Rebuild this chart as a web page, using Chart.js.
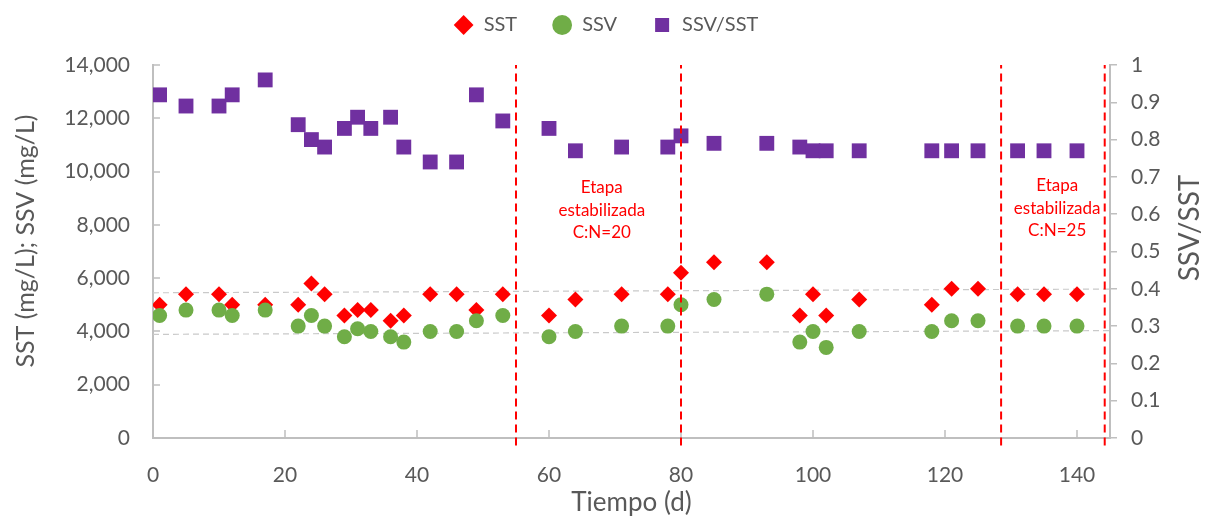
<!DOCTYPE html>
<html>
<head>
<meta charset="utf-8">
<script src="https://cdn.jsdelivr.net/npm/chart.js@4.4.1/dist/chart.umd.min.js"></script>
<style>
  html, body { margin: 0; padding: 0; background: #fff; }
  #wrap { width: 1212px; height: 516px; }
</style>
</head>
<body>
<div id="wrap"><canvas id="solidsChart"></canvas></div>
<script>
// Sampling days
const days = [1, 5, 10, 12, 17, 22, 24, 26, 29, 31, 33, 36, 38, 42, 46, 49, 53,
  60, 64, 71, 78, 80, 85, 93, 98, 100, 102, 107, 118, 121, 125, 131, 135, 140];

// SST (mg/L)
const sst = [5000, 5400, 5400, 5000, 5000, 5000, 5800, 5400, 4600, 4800, 4800, 4400, 4600, 5400, 5400, 4800, 5400,
  4600, 5200, 5400, 5400, 6200, 6600, 6600, 4600, 5400, 4600, 5200, 5000, 5600, 5600, 5400, 5400, 5400];

// SSV (mg/L)
const ssv = [4600, 4800, 4800, 4600, 4800, 4200, 4600, 4200, 3800, 4100, 4000, 3800, 3600, 4000, 4000, 4400, 4600,
  3800, 4000, 4200, 4200, 5000, 5200, 5400, 3600, 4000, 3400, 4000, 4000, 4400, 4400, 4200, 4200, 4200];

// SSV/SST
const ratio = [0.92, 0.89, 0.89, 0.92, 0.96, 0.84, 0.80, 0.78, 0.83, 0.86, 0.83, 0.86, 0.78, 0.74, 0.74, 0.92, 0.85,
  0.83, 0.77, 0.78, 0.78, 0.81, 0.79, 0.79, 0.78, 0.77, 0.77, 0.77, 0.77, 0.77, 0.77, 0.77, 0.77, 0.77];

// linear trend lines (values at the first and last day)
const trendDays = [0, 145];
const sstTrend = [5450, 5590];
const ssvTrend = [3890, 4030];

// stage boundaries (d)
const stageDays = [55, 80, 128.5, 144.2];

const noteLines = [
  ["Etapa", "estabilizada", "C:N=20"],
  ["Etapa", "estabilizada", "C:N=25"],
];

// annotation placement (day, value of first line on the left axis)
const noteAt = [{ day: 68, value: 9400 }, { day: 137, value: 9470 }];

const grey = "#595959";
const axisGrey = "#bfbfbf";

Chart.defaults.font.family = "Lato, 'Open Sans', sans-serif";
Chart.defaults.color = grey;

const toPoints = (xs, ys) => xs.map((d, i) => ({ x: d, y: ys[i] }));

const stagePoints = [];
stageDays.forEach(d => {
  stagePoints.push({ x: d, y: -280 }, { x: d, y: 14000 }, { x: d, y: null });
});

// legend sits a bit higher than the plot
const legendGap = {
  id: "legendGap",
  beforeInit(chart) {
    const fit = chart.legend.fit;
    chart.legend.fit = function () {
      fit.bind(chart.legend)();
      this.height += 20;
    };
  }
};

// inside tick marks, axis titles and the stage notes
const extras = {
  id: "extras",
  beforeDatasetsDraw(chart) {
    const { ctx, scales: { x, y } } = chart;
    ctx.save();
    ctx.strokeStyle = axisGrey;
    ctx.lineWidth = 1.5;
    ctx.beginPath();
    y.ticks.forEach(t => {
      const py = Math.round(y.getPixelForValue(t.value));
      ctx.moveTo(y.right, py);
      ctx.lineTo(y.right + 7, py);
    });
    x.ticks.forEach(t => {
      const px = Math.round(x.getPixelForValue(t.value));
      ctx.moveTo(px, x.top);
      ctx.lineTo(px, x.top - 8);
    });
    ctx.stroke();
    ctx.restore();
  },
  afterDraw(chart) {
    const { ctx, scales: { x, y } } = chart;
    ctx.save();
    ctx.fillStyle = grey;
    ctx.textAlign = "center";
    ctx.textBaseline = "middle";

    ctx.font = "25px Lato";
    ctx.save();
    ctx.translate(26, 241);
    ctx.rotate(-Math.PI / 2);
    ctx.fillText("SST (mg/L); SSV (mg/L)", 0, 0);
    ctx.restore();

    ctx.font = "28px Lato";
    ctx.save();
    ctx.translate(1190, 228);
    ctx.rotate(-Math.PI / 2);
    ctx.fillText("SSV/SST", 0, 0);
    ctx.restore();

    ctx.fillStyle = "#ff0000";
    ctx.font = "17px Lato";
    noteAt.forEach((n, i) => {
      const px = x.getPixelForValue(n.day);
      const py = y.getPixelForValue(n.value);
      noteLines[i].forEach((line, j) => ctx.fillText(line, px, py + j * 22.5));
    });
    ctx.restore();
  }
};

new Chart(document.getElementById("solidsChart"), {
  type: "scatter",
  data: {
    datasets: [
      {
        label: "SST",
        data: toPoints(days, sst),
        pointStyle: "rectRot",
        pointRadius: 8,
        pointHoverRadius: 8,
        backgroundColor: "#ff0000",
        borderColor: "#ff0000",
        borderWidth: 0,
        yAxisID: "y",
        order: 3
      },
      {
        label: "SSV",
        data: toPoints(days, ssv),
        pointStyle: "circle",
        pointRadius: 7.5,
        pointHoverRadius: 7.5,
        backgroundColor: "#70ad47",
        borderColor: "#70ad47",
        borderWidth: 0,
        yAxisID: "y",
        order: 2
      },
      {
        label: "SSV/SST",
        data: toPoints(days, ratio),
        pointStyle: "rect",
        pointRadius: 10.5,
        pointHoverRadius: 10.5,
        backgroundColor: "#7030a0",
        borderColor: "#7030a0",
        borderWidth: 0,
        yAxisID: "y2",
        order: 1
      },
      {
        label: "trendSST",
        data: toPoints(trendDays, sstTrend),
        showLine: true,
        pointRadius: 0,
        borderColor: "#c9c9c9",
        borderWidth: 1.2,
        borderDash: [6, 4],
        yAxisID: "y",
        order: 4
      },
      {
        label: "trendSSV",
        data: toPoints(trendDays, ssvTrend),
        showLine: true,
        pointRadius: 0,
        borderColor: "#c9c9c9",
        borderWidth: 1.2,
        borderDash: [6, 4],
        yAxisID: "y",
        order: 4
      },
      {
        label: "stages",
        data: stagePoints,
        showLine: true,
        spanGaps: false,
        pointRadius: 0,
        borderColor: "#ff0000",
        borderWidth: 2,
        borderDash: [8, 5],
        clip: false,
        yAxisID: "y",
        order: 0
      }
    ]
  },
  options: {
    responsive: true,
    maintainAspectRatio: false,
    animation: false,
    layout: { padding: { top: 5, left: 0, right: 0, bottom: 0 } },
    plugins: {
      tooltip: { enabled: false },
      legend: {
        position: "top",
        labels: {
          usePointStyle: true,
          boxHeight: 14,
          padding: 10,
          color: grey,
          font: { size: 20 },
          filter: item => ["SST", "SSV", "SSV/SST"].includes(item.text.trim()),
          sort: (a, b) => a.datasetIndex - b.datasetIndex,
          generateLabels: chart => {
            const items = Chart.defaults.plugins.legend.labels.generateLabels(chart);
            items.forEach(it => {
              if (it.text === "SST" || it.text === "SSV") it.text = it.text + "\u2003\u2002";
            });
            return items;
          }
        }
      }
    },
    scales: {
      x: {
        type: "linear",
        min: 0,
        max: 145,
        afterFit: s => { s.height = 78; },
        grid: { display: false, drawTicks: false },
        border: { color: axisGrey, width: 2 },
        ticks: { stepSize: 20, includeBounds: false, padding: 25, font: { size: 21 }, color: grey },
        title: { display: true, text: "Tiempo (d)", font: { size: 26, lineHeight: 1 }, color: grey, padding: { top: 0, bottom: 0 } }
      },
      y: {
        position: "left",
        min: 0,
        max: 14000,
        afterFit: s => { s.width = 153; },
        grid: { display: false, drawTicks: false },
        border: { color: axisGrey, width: 2 },
        ticks: {
          stepSize: 2000,
          padding: 23,
          font: { size: 21 },
          color: grey,
          callback: v => v.toLocaleString("en-US")
        }
      },
      y2: {
        position: "right",
        min: 0,
        max: 1,
        afterFit: s => { s.width = 102; },
        grid: { display: true, drawOnChartArea: false, drawTicks: true, tickLength: 7, color: axisGrey, lineWidth: 1.5 },
        border: { color: axisGrey, width: 2 },
        ticks: {
          stepSize: 0.1,
          padding: 14,
          font: { size: 21 },
          color: grey,
          callback: v => String(Math.round(v * 10) / 10)
        }
      }
    }
  },
  plugins: [legendGap, extras]
});
</script>
</body>
</html>
